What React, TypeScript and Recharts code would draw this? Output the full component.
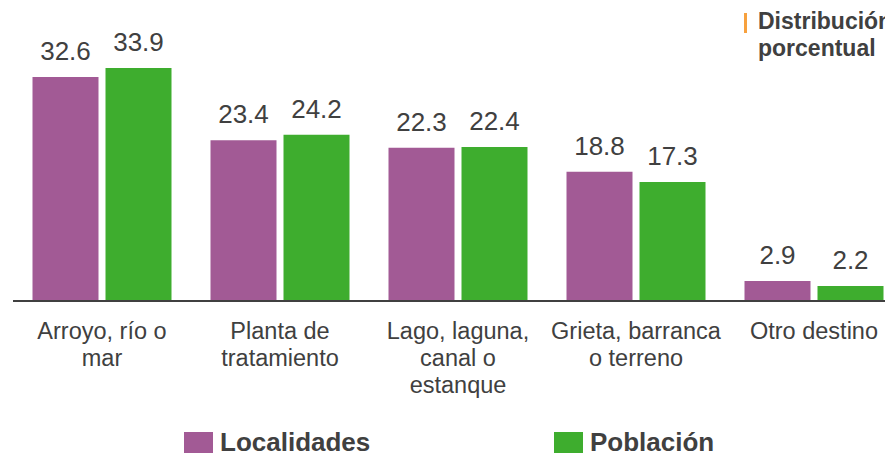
import { BarChart, Bar, XAxis, YAxis, LabelList } from "recharts";

const categories = [
  ["Arroyo, río o", "mar"],
  ["Planta de", "tratamiento"],
  ["Lago, laguna,", "canal o", "estanque"],
  ["Grieta, barranca", "o terreno"],
  ["Otro destino"],
];
const localidades = [32.6, 23.4, 22.3, 18.8, 2.9];
const poblacion = [33.9, 24.2, 22.4, 17.3, 2.2];

const PURPLE = "#A25A95";
const GREEN = "#3EAD2E";
const TEXT = "#404040";
const FONT = "'Liberation Sans', Arial, sans-serif";

const data = categories.map((lines, i) => ({
  name: lines.join(" "),
  localidades: localidades[i],
  poblacion: poblacion[i],
}));

const CategoryTick = (props: any) => {
  const { x, y, index } = props;
  const lines = categories[index] || [];
  return (
    <text x={x} y={y + 30} textAnchor="middle" fill={TEXT} fontSize={23.5} fontFamily={FONT}>
      {lines.map((l, i) => (
        <tspan key={i} x={x} dy={i === 0 ? 0 : 27}>
          {l}
        </tspan>
      ))}
    </text>
  );
};

export default function App() {
  return (
    <div
      style={{
        position: "absolute",
        left: 0,
        top: 0,
        width: 885,
        height: 453,
        overflow: "hidden",
        background: "#fff",
        fontFamily: FONT,
      }}
    >
      <BarChart
        width={910}
        height={453}
        data={data}
        margin={{ top: 26, right: 7, left: 13, bottom: 52 }}
        barGap={7}
        barCategoryGap={19.5}
      >
        <XAxis
          dataKey="name"
          height={100}
          tickLine={false}
          axisLine={{ stroke: TEXT, strokeWidth: 2 }}
          tick={<CategoryTick />}
          interval={0}
        />
        <YAxis hide domain={[0, 40]} />
        <Bar dataKey="localidades" fill={PURPLE} isAnimationActive={false}>
          <LabelList dataKey="localidades" position="top" offset={17} fill={TEXT} fontSize={26} fontFamily={FONT} />
        </Bar>
        <Bar dataKey="poblacion" fill={GREEN} isAnimationActive={false}>
          <LabelList dataKey="poblacion" position="top" offset={17} fill={TEXT} fontSize={26} fontFamily={FONT} />
        </Bar>
      </BarChart>

      <div
        style={{
          position: "absolute",
          left: 744,
          top: 13,
          width: 3,
          height: 20,
          background: "#F7A13E",
        }}
      />
      <div
        style={{
          position: "absolute",
          left: 758,
          top: 8,
          fontWeight: "bold",
          fontSize: 23,
          lineHeight: "27px",
          color: TEXT,
          whiteSpace: "nowrap",
        }}
      >
        Distribución
        <br />
        porcentual
      </div>

      <div style={{ position: "absolute", left: 184, top: 432, display: "flex", alignItems: "flex-start" }}>
        <div style={{ width: 29, height: 21, background: PURPLE, marginRight: 7 }} />
        <span style={{ fontWeight: "bold", fontSize: 26, lineHeight: "26px", color: TEXT, marginTop: -3 }}>
          Localidades
        </span>
      </div>
      <div style={{ position: "absolute", left: 554, top: 432, display: "flex", alignItems: "flex-start" }}>
        <div style={{ width: 29, height: 21, background: GREEN, marginRight: 7 }} />
        <span style={{ fontWeight: "bold", fontSize: 26, lineHeight: "26px", color: TEXT, marginTop: -3 }}>
          Población
        </span>
      </div>
    </div>
  );
}
